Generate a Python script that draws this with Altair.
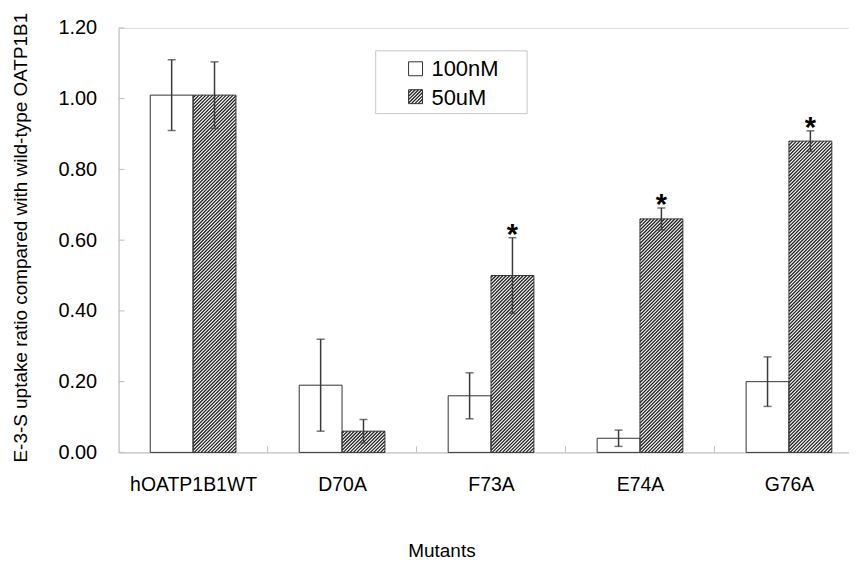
import altair as alt
import numpy as np
import pandas as pd

# ---- data ----
categories = ["hOATP1B1WT", "D70A", "F73A", "E74A", "G76A"]
series_names = ["100nM", "50uM"]
values_100nM = [1.01, 0.19, 0.16, 0.04, 0.20]
errors_100nM = [0.10, 0.13, 0.065, 0.023, 0.07]
values_50uM = [1.01, 0.06, 0.50, 0.66, 0.88]
errors_50uM = [0.094, 0.033, 0.107, 0.031, 0.029]
significant_50uM = [False, False, True, True, True]
y_ticks = [0.0, 0.2, 0.4, 0.6, 0.8, 1.0, 1.2]

# ---- layout ----
W, H = 733, 426
BAND_PX = 149.5
X_MAX = W / BAND_PX
Y_MAX = 1.2
PX_Y = H / Y_MAX
BAR_PX = 43.0
BAR_W = BAR_PX / BAND_PX
CAP_PX = 8
HATCH_STEP = 3.4
HATCH_W = 1.3
HATCH_C = "#202020"
FONT = "Liberation Sans"


def hatch(w, h, step=HATCH_STEP):
    segs = []
    c = -w + 1.0
    while c < h:
        u1 = max(0.0, -c)
        u2 = min(w, h - c)
        if u2 > u1:
            segs.append((u1, u1 + c, u2, u2 + c))
        c += step
    return segs


rows = []
for i, cat in enumerate(categories):
    centre = i + 0.5
    rows.append(dict(cat=cat, series="100nM", x0=centre - BAR_W, x1=centre,
                     xc=centre - BAR_W / 2, value=values_100nM[i], err=errors_100nM[i], sig=False))
    rows.append(dict(cat=cat, series="50uM", x0=centre, x1=centre + BAR_W,
                     xc=centre + BAR_W / 2, value=values_50uM[i], err=errors_50uM[i], sig=significant_50uM[i]))
bars = pd.DataFrame(rows)
bars["base"] = 0.0
bars["lo"] = bars["value"] - bars["err"]
bars["hi"] = bars["value"] + bars["err"]

# hatch lines for 50uM bars (in data units)
hrows = []
for _, r in bars[bars.series == "50uM"].iterrows():
    h_px = r.value * PX_Y
    for (u1, v1, u2, v2) in hatch(BAR_PX, h_px):
        hrows.append(dict(hx1=r.x0 + u1 / BAND_PX, hy1=v1 / PX_Y,
                          hx2=r.x0 + u2 / BAND_PX, hy2=v2 / PX_Y))
hatch_df = pd.DataFrame(hrows)

label_expr = "[" + ",".join("'%s'" % c for c in categories) + "][floor(datum.value)]"

xscale = alt.Scale(domain=[0, X_MAX], nice=False, zero=False)
yscale = alt.Scale(domain=[0, Y_MAX], nice=False)
xaxis = alt.Axis(values=[i + 0.5 for i in range(len(categories))], labelExpr=label_expr,
                 title="Mutants", tickSize=0, grid=False, domainColor="#bfbfbf",
                 labelFontSize=19.5, labelColor="#000", labelPadding=23, labelFont=FONT,
                 titleFontSize=19, titleFont=FONT, titleFontWeight="normal", titleColor="#000",
                 titleX=324, titleY=98, titleAlign="center", titleBaseline="middle")
yaxis = alt.Axis(values=y_ticks, format=".2f", tickSize=0, grid=False, domainColor="#bfbfbf",
                 labelFontSize=20, labelColor="#000", labelPadding=22, labelFont=FONT,
                 title="E-3-S uptake ratio compared with wild-type OATP1B1",
                 titleFontSize=19, titleFont=FONT, titleFontWeight="normal", titleColor="#000",
                 titleAngle=270, titleX=-98, titleY=210, titleAlign="center", titleBaseline="middle")

X = lambda f: alt.X(f, type="quantitative", scale=xscale, axis=xaxis)
Y = lambda f: alt.Y(f, type="quantitative", scale=yscale, axis=yaxis)

base = alt.Chart(bars)

bar_fill = base.mark_rect(fill="white").encode(x=X("x0"), x2="x1", y=Y("base"), y2="value")

hatch_layer = alt.Chart(hatch_df).mark_rule(color=HATCH_C, strokeWidth=HATCH_W).encode(
    x=X("hx1"), x2="hx2", y=Y("hy1"), y2="hy2")

bar_outline = base.mark_rect(fillOpacity=0, stroke="#333333", strokeWidth=1).encode(
    x=X("x0"), x2="x1", y=Y("base"), y2="value")

err_rule = base.mark_rule(color="#3a3a3a", strokeWidth=1.5).encode(
    x=X("xc"), y=Y("lo"), y2="hi")
err_cap_hi = base.mark_tick(orient="horizontal", color="#3a3a3a", thickness=1.5, size=CAP_PX).encode(
    x=X("xc"), y=Y("hi"))
err_cap_lo = base.mark_tick(orient="horizontal", color="#3a3a3a", thickness=1.5, size=CAP_PX).encode(
    x=X("xc"), y=Y("lo"))

stars = base.transform_filter("datum.sig").mark_text(
    text="*", fontSize=29, fontWeight="bold", font=FONT, color="#000", baseline="alphabetic", dy=6
).encode(x=X("xc"), y=Y("hi"))

# axis ticks (inside) at band boundaries and y tick values
bounds = pd.DataFrame({"b": [float(i) for i in range(1, len(categories))]})
xticks = alt.Chart(bounds).mark_rule(color="#bfbfbf", strokeWidth=1).encode(
    x=X("b"), y=alt.value(H), y2=alt.value(H - 6))
yt = pd.DataFrame({"t": y_ticks})
yticks = alt.Chart(yt).mark_rule(color="#bfbfbf", strokeWidth=1).encode(
    y=Y("t"), x=alt.value(0), x2=alt.value(6))

# ---- manual legend (pixel positions) ----
LX, LY = 258, 23
legend_box = alt.Chart(pd.DataFrame({"a": [0]})).mark_rect(
    fill="white", stroke="#c8c8c8", strokeWidth=1).encode(
    x=alt.value(LX), x2=alt.value(LX + 152), y=alt.value(LY), y2=alt.value(LY + 63))
leg = pd.DataFrame({"series": series_names,
                    "sx": [LX + 33] * 2, "sy": [LY + 11, LY + 39],
                    "tx": [LX + 56] * 2, "ty": [LY + 18.5, LY + 47]})
leg["sx2"] = leg["sx"] + 14
leg["sy2"] = leg["sy"] + 14
leg_sq_fill = alt.Chart(leg).mark_rect(fill="white").encode(
    x=alt.X("sx:Q", scale=None), x2="sx2", y=alt.Y("sy:Q", scale=None), y2="sy2")
lh = []
r50 = leg[leg.series == "50uM"].iloc[0]
for (u1, v1, u2, v2) in hatch(14, 14):
    lh.append(dict(px1=r50.sx + u1, py1=r50.sy2 - v1, px2=r50.sx + u2, py2=r50.sy2 - v2))
leg_hatch = alt.Chart(pd.DataFrame(lh)).mark_rule(color=HATCH_C, strokeWidth=HATCH_W).encode(
    x=alt.X("px1:Q", scale=None), x2="px2", y=alt.Y("py1:Q", scale=None), y2="py2")
leg_sq_line = alt.Chart(leg).mark_rect(fillOpacity=0, stroke="#333333", strokeWidth=1).encode(
    x=alt.X("sx:Q", scale=None), x2="sx2", y=alt.Y("sy:Q", scale=None), y2="sy2")
leg_text = alt.Chart(leg).mark_text(align="left", baseline="middle", fontSize=22, font=FONT,
                                    color="#000").encode(
    x=alt.X("tx:Q", scale=None), y=alt.Y("ty:Q", scale=None), text="series:N")

chart = alt.layer(
    bar_fill, hatch_layer, bar_outline, err_rule, err_cap_hi, err_cap_lo, stars,
    xticks, yticks, legend_box, leg_sq_fill, leg_hatch, leg_sq_line, leg_text
).properties(
    width=W, height=H,
    padding={"left": 111, "top": 19, "right": 0, "bottom": 110},
    autosize=alt.AutoSizeParams(type="none"),
).configure_view(strokeWidth=0).configure(font=FONT, background="white")

chart.save("out.html", embed_options={"renderer": "svg", "actions": False})
